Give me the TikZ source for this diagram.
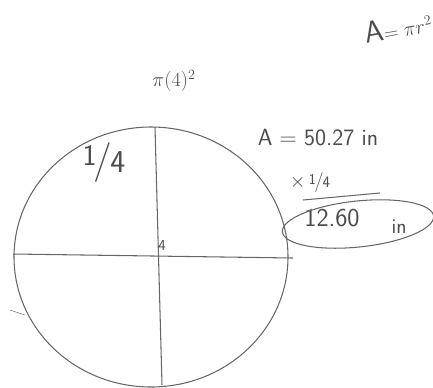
\documentclass[tikz,border=0pt]{standalone}
\usepackage{amsmath}
\usepackage{amssymb}
\usepackage{graphicx}
\usepackage{tikz}

\tikzset{
  pencil/.style = {draw=black!60, line width=0.9pt},
  scribble/.style = {text=black!70, inner sep=0pt, font=\sffamily},
}
\newcommand{\onequarter}{\raisebox{.45ex}{\scalebox{.75}{1}}\kern-.08em/\kern-.05em\scalebox{.8}{4}}

\begin{document}
\begin{tikzpicture}[x=0.03cm, y=-0.03cm]
\useasboundingbox (0,0) rectangle (433,387);

% the circle and its two diameters
\draw[pencil] (151,257) ellipse [x radius=137, y radius=130];
\coordinate (top) at (155,127);
\coordinate (bottom) at (162,385);
\coordinate (west) at (13,254);
\coordinate (east) at (293,258);
\draw[pencil] (top) -- (bottom);
\draw[pencil] (west) -- (east);

\node[scribble, font=\sffamily\fontsize{34}{34}\selectfont] (quarter) at (104,163) {\onequarter};
\node[scribble, font=\sffamily\fontsize{13}{13}\selectfont] (radius) at (162,246) {4};

% the working
\node[scribble, rotate=10] (formula) at (398,27)
  {{\fontsize{26}{26}\selectfont A}{\fontsize{17}{17}\selectfont$=\pi r^2$}};
\node[scribble, font=\fontsize{17}{17}\selectfont] (subst) at (174,81) {$\pi(4)^2$};
\node[scribble, font=\sffamily\fontsize{20}{20}\selectfont] (area) at (318,138) {A = 50.27 in};
\node[scribble, font=\sffamily\fontsize{17}{17}\selectfont] (times) at (310,183) {$\times$\,\onequarter};
\coordinate (bar start) at (303,200);
\coordinate (bar end) at (380,193);
\draw[pencil] (bar start) -- (bar end);
\node[scribble, font=\sffamily\fontsize{22}{22}\selectfont] (result) at (332,218) {12.60};
\node[scribble, font=\sffamily\fontsize{18}{18}\selectfont] (unit) at (399,227) {in};
\draw[pencil] (358,224) ellipse [x radius=76, y radius=23, rotate=6];

% stray stroke
\coordinate (stray a) at (10,310);
\coordinate (stray b) at (25,315);
\draw[pencil, thin] (stray a) -- (stray b);

\end{tikzpicture}
\end{document}
